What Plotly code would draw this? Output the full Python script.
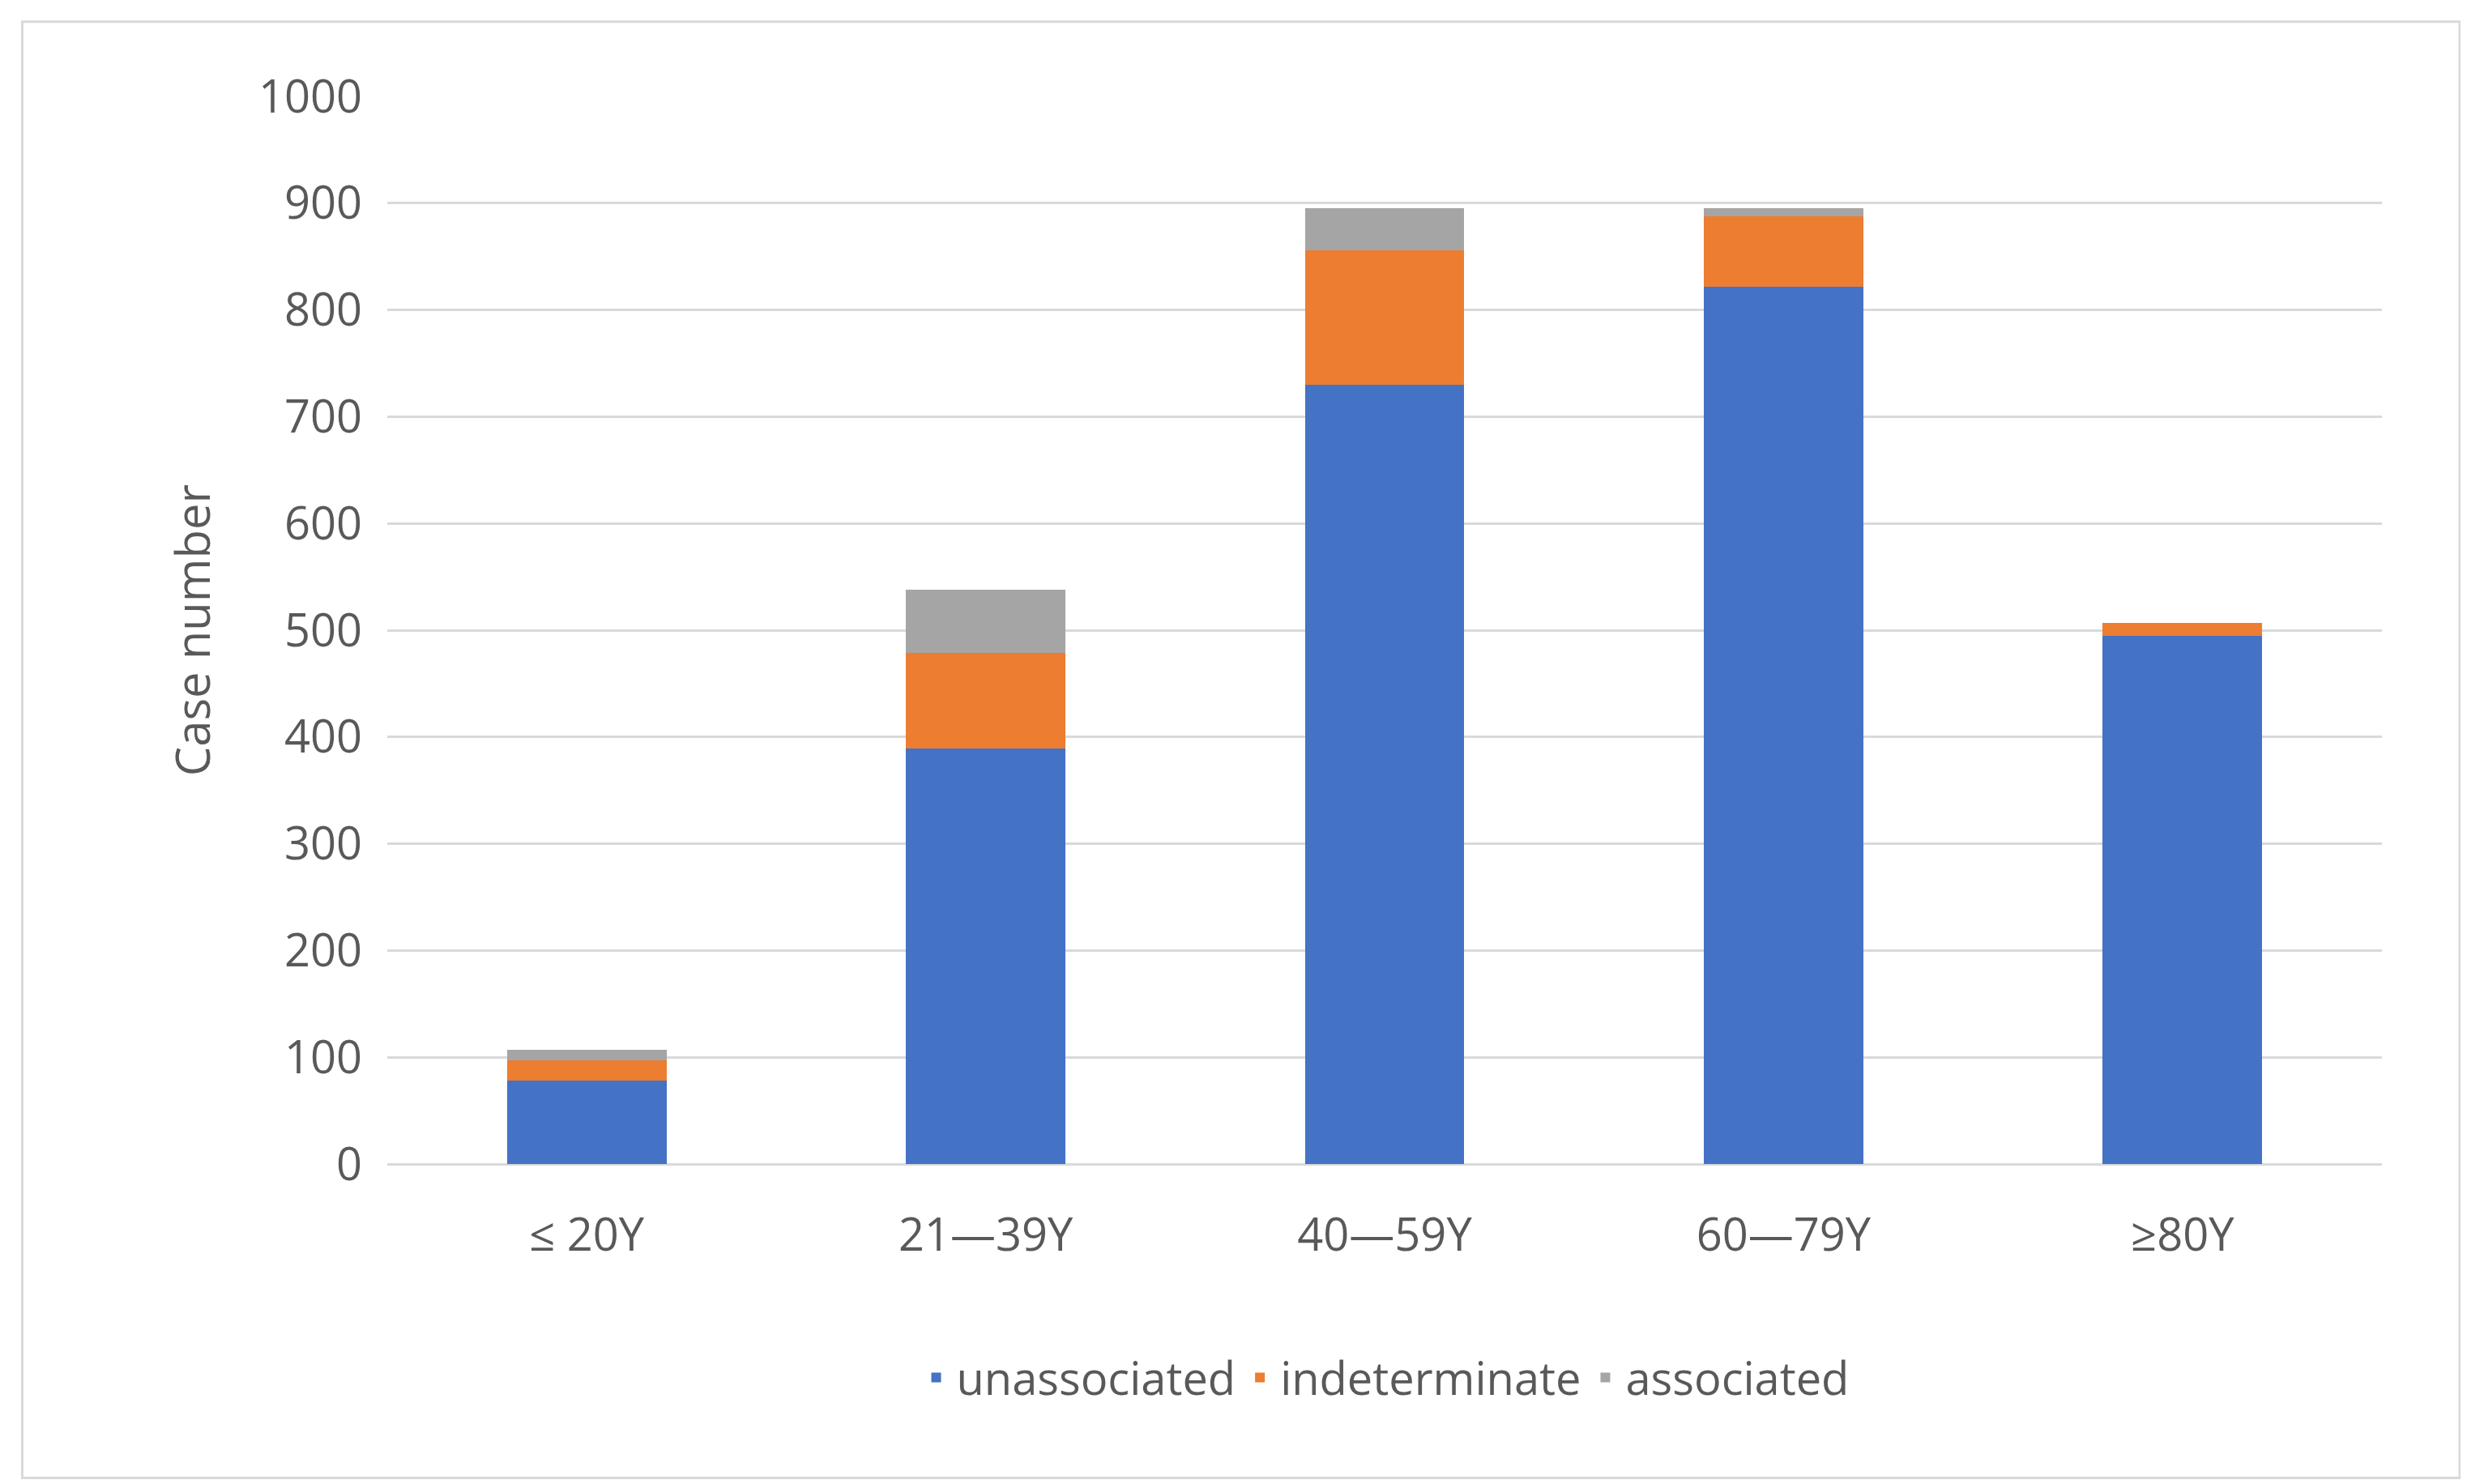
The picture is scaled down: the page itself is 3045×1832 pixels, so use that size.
import plotly.graph_objects as go

categories = ["≤ 20Y", "21—39Y", "40—59Y", "60—79Y", "≥80Y"]
unassociated = [78, 389, 730, 822, 495]
indeterminate = [19, 90, 126, 66, 12]
associated = [10, 59, 39, 7, 0]
tick_vals = [0, 100, 200, 300, 400, 500, 600, 700, 800, 900, 1000]

fig = go.Figure()
for name, vals, col in [("unassociated", unassociated, "#4472C4"),
                        ("indeterminate", indeterminate, "#ED7D31"),
                        ("associated", associated, "#A5A5A5")]:
    fig.add_bar(x=categories, y=vals, name=name, marker_color=col, marker_line_width=0)

font = dict(family="Open Sans, Lato, sans-serif", color="#595959")
fig.update_layout(
    barmode="stack", bargap=0.6,
    width=3045, height=1832,
    margin=dict(l=470, r=113, t=111, b=403),
    paper_bgcolor="white", plot_bgcolor="white",
    font=dict(size=54, **font),
    legend=dict(orientation="h", x=0.5, xanchor="center", y=-0.2, yanchor="middle",
                font=dict(size=56), itemwidth=40, traceorder="normal"),
    xaxis=dict(showgrid=False, showline=False, ticks="", tickfont=dict(size=56),
               ticklabelstandoff=50),
    yaxis=dict(range=[0, 1000], tickvals=tick_vals, gridcolor="#d9d9d9", gridwidth=3,
               zeroline=True, zerolinecolor="#d9d9d9", zerolinewidth=3,
               tickfont=dict(size=56), ticklabelstandoff=30,
               title=dict(text="Case number", font=dict(size=58), standoff=40)),
    shapes=[dict(type="rect", xref="paper", yref="paper", x0=-0.183, x1=1.039,
                 y0=-0.294, y1=1.070, line=dict(color="#d9d9d9", width=3))],
)
fig.write_html("out.html")
